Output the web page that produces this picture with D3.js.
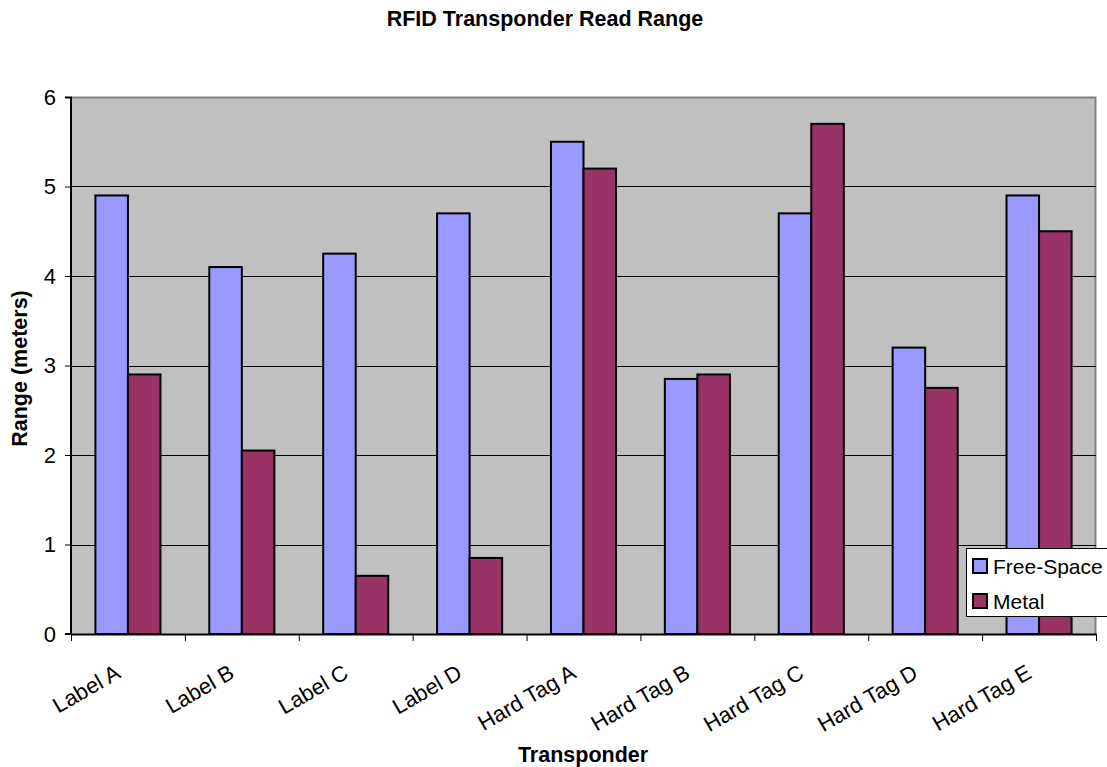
<!DOCTYPE html>
<html>
<head>
<meta charset="utf-8">
<script src="https://cdn.jsdelivr.net/npm/d3@7"></script>
<style>
  body { margin: 0; background: #fff; }
  text { font-family: Arial, "Liberation Sans", sans-serif; }
</style>
</head>
<body>
<div class="svg-container"></div>
<script>
const categories = ["Label A", "Label B", "Label C", "Label D", "Hard Tag A", "Hard Tag B", "Hard Tag C", "Hard Tag D", "Hard Tag E"];
const seriesNames = ["Free-Space", "Metal"];
const freeSpace = [4.9, 4.1, 4.25, 4.7, 5.5, 2.85, 4.7, 3.2, 4.9];
const metal = [2.9, 2.05, 0.65, 0.85, 5.2, 2.9, 5.7, 2.75, 4.5];
const yTicks = [0, 1, 2, 3, 4, 5, 6];
const colours = ["#9999ff", "#993366"];

const W = 1107, H = 767;
const margin = { top: 97, right: 11, bottom: 133, left: 71 };
const width = W - margin.left - margin.right;
const height = H - margin.top - margin.bottom;

const svg = d3.select(".svg-container")
  .append("svg")
  .attr("width", W)
  .attr("height", H);

const g = svg.append("g")
  .attr("transform", "translate(" + margin.left + "," + margin.top + ")");

// scales
const xScale = d3.scaleBand()
  .domain(categories)
  .range([0, width]);

const xInner = d3.scaleBand()
  .domain(seriesNames)
  .range([0, xScale.bandwidth() * 2 / 3.5])
  .padding(0);

const yScale = d3.scaleLinear()
  .domain([0, 6])
  .range([height, 0]);

// plot background
g.append("rect")
  .attr("width", width)
  .attr("height", height)
  .attr("fill", "#c0c0c0");

// grey frame top/right
g.append("path")
  .attr("d", "M0,0.5H" + (width - 0.5) + "V" + height)
  .attr("fill", "none")
  .attr("stroke", "#808080")
  .attr("stroke-width", 2);

// gridlines
g.selectAll(".grid")
  .data(yTicks.filter(d => d > 0 && d < 6))
  .enter()
  .append("line")
  .attr("x1", 0)
  .attr("x2", width)
  .attr("y1", d => Math.round(yScale(d)) + 0.5)
  .attr("y2", d => Math.round(yScale(d)) + 0.5)
  .attr("stroke", "#000")
  .attr("stroke-width", 1);

// bars
const rows = categories.map((c, i) => ({ cat: c, vals: [freeSpace[i], metal[i]] }));
const offset = (xScale.bandwidth() - xInner.range()[1]) / 2;

const groups = g.selectAll(".cat")
  .data(rows)
  .enter()
  .append("g")
  .attr("transform", d => "translate(" + (xScale(d.cat) + offset) + ",0)");

groups.selectAll("rect")
  .data(d => d.vals.map((v, j) => ({ s: seriesNames[j], v: v, j: j })))
  .enter()
  .append("rect")
  .attr("x", d => xInner(d.s))
  .attr("y", d => yScale(d.v))
  .attr("width", xInner.bandwidth())
  .attr("height", d => height - yScale(d.v))
  .attr("fill", d => colours[d.j])
  .attr("stroke", "#000")
  .attr("stroke-width", 2);

// y axis
const yAxis = d3.axisLeft(yScale)
  .tickValues(yTicks)
  .tickFormat(d3.format("d"))
  .tickSize(6)
  .tickPadding(9);

const yG = g.append("g").call(yAxis);
yG.attr("font-family", null);
yG.select(".domain").attr("stroke", "#000").attr("stroke-width", 2).attr("d", "M-6,0.5H0V" + height + "H-6");
yG.selectAll("text").attr("font-size", 22).attr("fill", "#000");

// x axis
const xAxis = d3.axisBottom(xScale)
  .tickValues([])
  .tickSizeOuter(0);

const xG = g.append("g")
  .attr("transform", "translate(0," + height + ")")
  .call(xAxis);
xG.attr("font-family", null);
xG.select(".domain").attr("stroke", "#000").attr("stroke-width", 2);

// tick marks between categories
xG.selectAll(".sep")
  .data(d3.range(categories.length + 1))
  .enter()
  .append("line")
  .attr("x1", i => i * xScale.bandwidth() + 0.5)
  .attr("x2", i => i * xScale.bandwidth() + 0.5)
  .attr("y1", 0)
  .attr("y2", 7)
  .attr("stroke", "#000");

// rotated category labels
xG.selectAll(".lbl")
  .data(categories)
  .enter()
  .append("text")
  .attr("text-anchor", "end")
  .attr("font-size", 22)
  .attr("fill", "#000")
  .attr("transform", d => "translate(" + (xScale(d) + xScale.bandwidth() / 2 - 6) + ",43) rotate(-30)")
  .text(d => d);

// titles
svg.append("text")
  .attr("x", 545)
  .attr("y", 26)
  .attr("text-anchor", "middle")
  .attr("font-weight", "bold")
  .attr("font-size", 21.5)
  .text("RFID Transponder Read Range");

svg.append("text")
  .attr("x", 583)
  .attr("y", 762)
  .attr("text-anchor", "middle")
  .attr("font-weight", "bold")
  .attr("font-size", 21.5)
  .text("Transponder");

svg.append("text")
  .attr("transform", "translate(27," + (margin.top + height / 2 + 3) + ") rotate(-90)")
  .attr("text-anchor", "middle")
  .attr("font-weight", "bold")
  .attr("font-size", 21.5)
  .text("Range (meters)");

// legend
const legend = svg.append("g")
  .attr("transform", "translate(966,548)");

legend.append("rect")
  .attr("x", 0.5)
  .attr("y", 0.5)
  .attr("width", 160)
  .attr("height", 68)
  .attr("fill", "#fff")
  .attr("stroke", "#000");

seriesNames.forEach((s, i) => {
  legend.append("rect")
    .attr("x", 7)
    .attr("y", 11 + i * 35)
    .attr("width", 14)
    .attr("height", 14)
    .attr("fill", colours[i])
    .attr("stroke", "#000")
    .attr("stroke-width", 2);
  legend.append("text")
    .attr("x", 27)
    .attr("y", 18 + i * 35)
    .attr("dy", "0.36em")
    .attr("font-size", 21)
    .text(s);
});
</script>
</body>
</html>
